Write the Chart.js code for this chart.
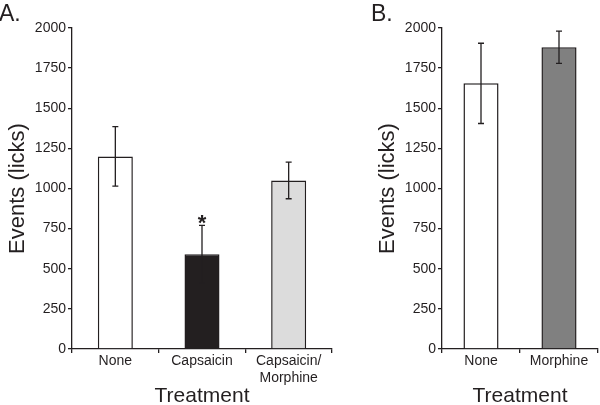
<!DOCTYPE html>
<html>
<head>
<meta charset="utf-8">
<script src="https://cdn.jsdelivr.net/npm/chart.js@4.4.1/dist/chart.umd.min.js"></script>
<style>
  html, body { margin: 0; padding: 0; background: #fff; }
  #wrap { position: relative; width: 600px; height: 405px; overflow: hidden; }
  .panel { position: absolute; top: 0; }
  .tag { position: absolute; top: 2px; font: 23px "Liberation Sans", Arial, sans-serif; line-height: 1; color: #231f20; }
</style>
</head>
<body>
<div id="wrap">
  <canvas id="chartA" class="panel" width="370" height="405" style="left:0"></canvas>
  <canvas id="chartB" class="panel" width="230" height="405" style="left:370px"></canvas>
  <div class="tag" style="left:-1px">A.</div>
  <div class="tag" style="left:371px">B.</div>
</div>
<script>
// Panel A data
const labelsA = ['None', 'Capsaicin', ['Capsaicin/', 'Morphine']];
const valuesA = [1200, 590, 1050];
const errorsA = [185, 180, 114];
const colorsA = ['#ffffff', '#231f20', '#dcdcdc'];
const marksA = ['', '*', ''];

// Panel B data
const labelsB = ['None', 'Morphine'];
const valuesB = [1655, 1880];
const errorsB = [250, 100];
const colorsB = ['#ffffff', '#808080'];
const marksB = ['', ''];

const yTicks = { min: 0, max: 2000, step: 250 };

const ink = '#231f20';
const fontFamily = "'Liberation Sans', Arial, sans-serif";

// Draws error bars and significance marks on top of the bars
const errorBars = {
    id: 'errorBars',
    afterDatasetsDraw(chart) {
        const ctx = chart.ctx;
        const yScale = chart.scales.y;
        chart.data.datasets.forEach((ds, di) => {
            const meta = chart.getDatasetMeta(di);
            meta.data.forEach((bar, i) => {
                const v = ds.data[i];
                const e = ds.errors[i];
                const x = bar.x;
                const yTop = yScale.getPixelForValue(v + e);
                const yBot = yScale.getPixelForValue(v - e);
                ctx.save();
                ctx.strokeStyle = ink;
                ctx.lineWidth = 1.3;
                ctx.beginPath();
                ctx.moveTo(x, yTop);
                ctx.lineTo(x, yBot);
                ctx.moveTo(x - 3, yTop);
                ctx.lineTo(x + 3, yTop);
                ctx.moveTo(x - 3, yBot);
                ctx.lineTo(x + 3, yBot);
                ctx.stroke();
                if (ds.marks[i]) {
                    ctx.fillStyle = ink;
                    ctx.font = 'bold 22px ' + fontFamily;
                    ctx.textAlign = 'center';
                    ctx.textBaseline = 'alphabetic';
                    ctx.fillText(ds.marks[i], x, yTop + 5);
                }
                ctx.restore();
            });
        });
    }
};

function makeChart(id, labels, values, errors, colors, marks, barPct, padRight) {
    return new Chart(document.getElementById(id), {
        type: 'bar',
        data: {
            labels: labels,
            datasets: [{
                data: values,
                errors: errors,
                marks: marks,
                backgroundColor: colors,
                borderColor: ink,
                borderWidth: 1.5,
                categoryPercentage: 1,
                barPercentage: barPct
            }]
        },
        options: {
            responsive: false,
            animation: false,
            layout: { padding: { top: 28, right: padRight, left: 0, bottom: 0 } },
            plugins: {
                legend: { display: false },
                tooltip: { enabled: false }
            },
            scales: {
                x: {
                    afterFit: (s) => { s.height = 56; },
                    grid: { drawOnChartArea: false, tickLength: 4, color: ink, lineWidth: 1.3 },
                    border: { color: ink, width: 1.3 },
                    ticks: {
                        color: ink,
                        padding: 0,
                        maxRotation: 0,
                        font: { family: fontFamily, size: 14, lineHeight: 1.2 }
                    },
                    title: {
                        display: true,
                        text: 'Treatment',
                        color: ink,
                        padding: 0,
                        font: { family: fontFamily, size: 21, lineHeight: 0.86 }
                    }
                },
                y: {
                    min: yTicks.min,
                    max: yTicks.max,
                    afterFit: (s) => { s.width = 72; },
                    grid: { drawOnChartArea: false, tickLength: 4, color: ink, lineWidth: 1.3 },
                    border: { color: ink, width: 1.3 },
                    ticks: {
                        stepSize: yTicks.step,
                        color: ink,
                        padding: 2,
                        callback: (v) => String(v),
                        font: { family: fontFamily, size: 14 }
                    },
                    title: {
                        display: true,
                        text: 'Events (licks)',
                        color: ink,
                        padding: { top: 5, bottom: 0 },
                        font: { family: fontFamily, size: 22, lineHeight: 1.2 }
                    }
                }
            }
        },
        plugins: [errorBars]
    });
}

makeChart('chartA', labelsA, valuesA, errorsA, colorsA, marksA, 0.404, 38);
makeChart('chartB', labelsB, valuesB, errorsB, colorsB, marksB, 0.45, 2);
</script>
</body>
</html>
